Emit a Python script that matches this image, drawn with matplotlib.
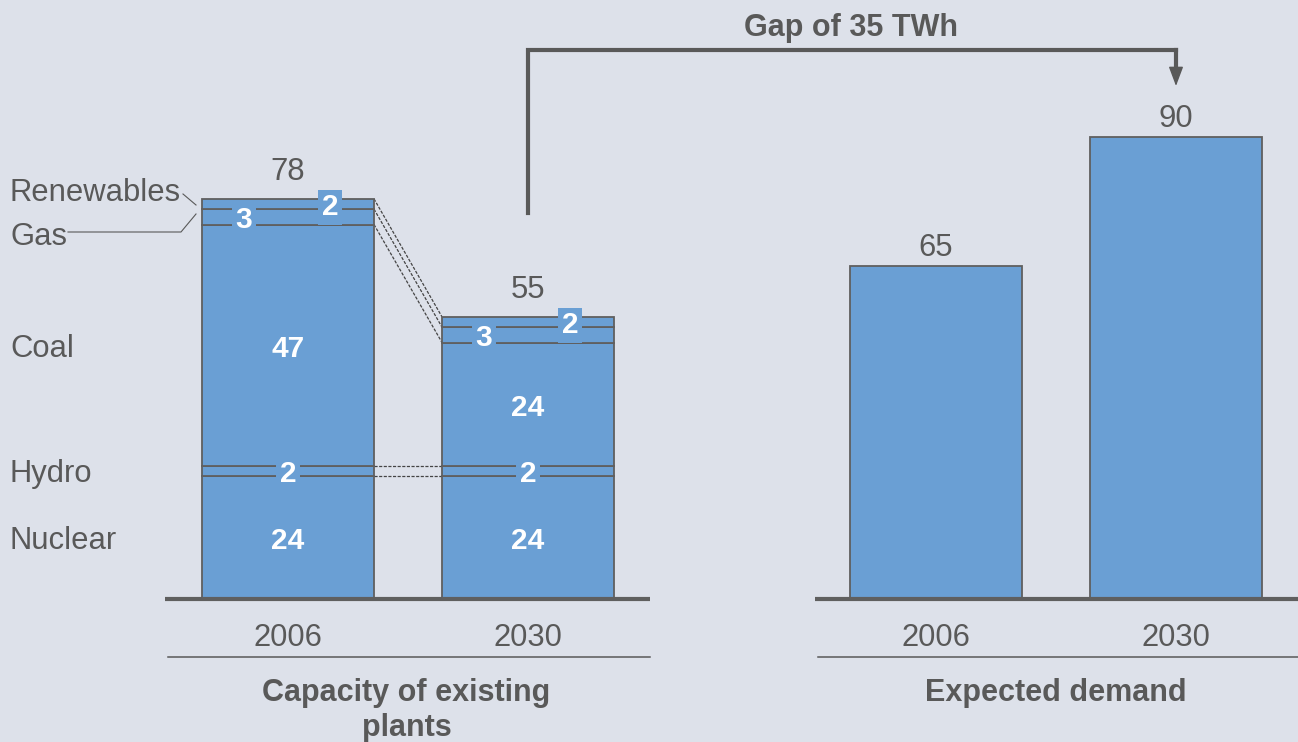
import matplotlib
matplotlib.use("Agg")
import matplotlib.pyplot as plt

# donnees
years = ["2006", "2030"]
sources = ["Nuclear", "Hydro", "Coal", "Gas", "Renewables"]
capacity_2006 = [24, 2, 47, 3, 2]
capacity_2030 = [24, 2, 24, 3, 2]
demand = [65, 90]
panel_titles = ["Capacity of existing\nplants", "Expected demand"]

BG = "#dde1ea"
BLUE = "#6a9fd4"
EDGE = "#5f5f5f"
GRAY = "#595959"
FONT = "Liberation Sans"

plt.rcParams["font.family"] = [FONT, "DejaVu Sans"]

SCALE = 5.13      # pixels par unite
BASE = 599        # ligne de base en pixels
FS = 22.3         # taille du texte courant
FS_NUM = 21.5     # chiffres blancs
FS_BOLD = 22
DY = 3.5 / SCALE  # decalage vertical des textes


def py(y):
    """Convertit une ordonnee pixel en unite de donnees."""
    return (BASE - y) / SCALE


fig = plt.figure(figsize=(12.98, 7.42), dpi=100, facecolor=BG)
ax = fig.add_axes([0, 0, 1, 1])
ax.set_facecolor(BG)
ax.set_xlim(0, 1298)
ax.set_ylim(py(742), py(0))
ax.axis("off")

width = 172
cap_x = [288, 528]
dem_x = [936, 1176]

# barres empilees
tops = []
for x, values in zip(cap_x, [capacity_2006, capacity_2030]):
    bottom = 0
    bounds = []
    for src, v in zip(sources, values):
        ax.bar(x, v, bottom=bottom, width=width, color=BLUE,
               edgecolor=EDGE, linewidth=1.3, zorder=2)
        mid = bottom + v / 2 - DY
        box = dict(boxstyle="square,pad=0.12", fc=BLUE, ec="none")
        if src == "Gas":
            ax.text(x - 44, mid, str(v), color="white", fontweight="bold",
                    fontsize=FS_NUM, ha="center", va="center", bbox=box,
                    zorder=4)
        elif src == "Renewables":
            ax.text(x + 42, mid, str(v), color="white", fontweight="bold",
                    fontsize=FS_NUM, ha="center", va="center", bbox=box,
                    zorder=4)
        elif src == "Hydro":
            ax.text(x, mid, str(v), color="white", fontweight="bold",
                    fontsize=FS_NUM, ha="center", va="center", bbox=box,
                    zorder=4)
        else:
            ax.text(x, mid, str(v), color="white", fontweight="bold",
                    fontsize=FS_NUM, ha="center", va="center", zorder=4)
        bottom += v
        bounds.append(bottom)
    tops.append(bounds)
    ax.text(x, bottom + 6 - DY, str(bottom), color=GRAY, fontsize=FS,
            ha="center", va="center")

# lignes de liaison entre 2006 et 2030
xl = cap_x[0] + width / 2
xr = cap_x[1] - width / 2
for i in [0, 1, 2, 3, 4]:
    ax.plot([xl, xr], [tops[0][i], tops[1][i]], color="#444444", lw=0.9,
            ls=(0, (2.5, 1.2)), zorder=1)

# demande
for x, v in zip(dem_x, demand):
    ax.bar(x, v, width=width, color=BLUE, edgecolor=EDGE,
           linewidth=1.3, zorder=2)
    ax.text(x, v + 4.2 - DY, str(v), color=GRAY, fontsize=FS,
            ha="center", va="center")

# axes et etiquettes
for x0, x1, xs, title in [(165, 650, cap_x, panel_titles[0]),
                          (815, 1298, dem_x, panel_titles[1])]:
    ax.plot([x0, x1], [0, 0], color=EDGE, lw=3, solid_capstyle="butt",
            zorder=3)
    ax.plot([x0 + 3, x1], [py(657), py(657)], color=GRAY, lw=1.1)
    for x, yr in zip(xs, years):
        ax.text(x, py(635) - DY, yr, color=GRAY, fontsize=FS,
                ha="center", va="center")
    ax.text((x0 + x1) / 2 - 1, py(678), title, color=GRAY,
            fontsize=FS_BOLD, fontweight="bold",
            ha="center", va="top", linespacing=1.2)

# etiquettes des sources
mids = []
b = 0
for v in capacity_2006:
    mids.append(b + v / 2 - DY)
    b += v
ax.text(10, mids[0], "Nuclear", color=GRAY, fontsize=FS, va="center")
ax.text(10, mids[1], "Hydro", color=GRAY, fontsize=FS, va="center")
ax.text(10, mids[2], "Coal", color=GRAY, fontsize=FS, va="center")
ax.text(10, py(189) - DY, "Renewables", color=GRAY, fontsize=FS,
        va="center")
ax.text(10, py(233) - DY, "Gas", color=GRAY, fontsize=FS, va="center")
ax.plot([183, 196], [py(194), py(205)], color=GRAY, lw=0.8)
ax.plot([68, 181, 196], [py(232), py(232), py(214)], color=GRAY, lw=0.8)

# ecart
gap = demand[1] - sum(capacity_2030)
y_top = py(50)
ax.plot([cap_x[1], cap_x[1], dem_x[1]], [py(213), y_top, y_top],
        color=GRAY, lw=3, solid_joinstyle="miter")
ax.plot([dem_x[1], dem_x[1]], [y_top, py(72)], color=GRAY, lw=3)
ax.annotate("", xy=(dem_x[1], py(86)), xytext=(dem_x[1], py(70)),
            arrowprops=dict(arrowstyle="-|>,head_length=0.8,head_width=0.3",
                            mutation_scale=15, color=GRAY, lw=1,
                            shrinkA=0, shrinkB=0))
ax.text((cap_x[1] + dem_x[1]) / 2 - 1, py(24) - DY, f"Gap of {gap} TWh",
        color=GRAY, fontsize=FS_BOLD, fontweight="bold",
        ha="center", va="center")

fig.savefig("out.png", dpi=100, facecolor=BG)
